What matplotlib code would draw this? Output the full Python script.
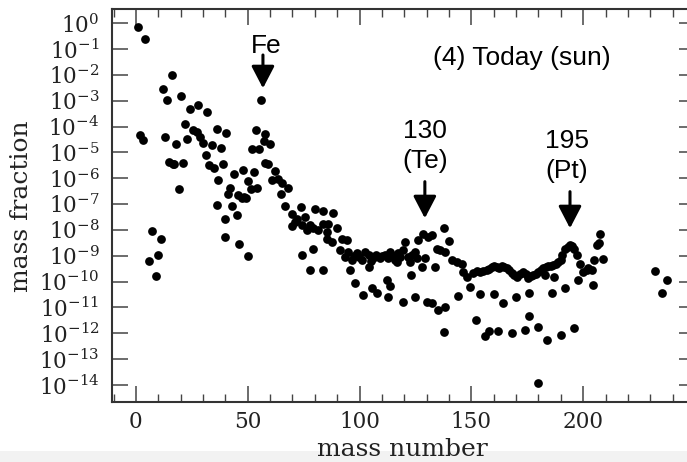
import matplotlib
matplotlib.use("Agg")
import matplotlib.pyplot as plt
from matplotlib.patches import Rectangle, ArrowStyle
from matplotlib.ticker import FixedLocator, MultipleLocator
import numpy as np

plt.rcParams['font.family'] = 'DejaVu Serif'
plt.rcParams['mathtext.fontset'] = 'dejavuserif'

# ---- data: mass number and log10(mass fraction) ----
mass_number = [
    1.0, 4.0, 2.0, 3.0, 6.0, 7.0, 8.9, 10.0, 11.2, 11.9, 13.0, 14.0, 14.6, 16.1, 16.4, 17.0,
    17.9, 19.1, 20.0, 20.9, 22.1, 22.9,
    24.2, 27.9, 32.0, 25.6, 27.1, 28.6, 30.1, 36.1, 40.1, 34.1, 38.0, 31.2, 32.6, 35.0, 39.0,
    36.8, 44.0, 48.0, 52.9, 50.0, 54.0, 51.4, 42.0, 41.0, 45.8, 47.5, 49.4, 48.4, 36.1, 43.1,
    45.0, 39.8, 39.8, 46.1, 50.0, 55.9, 53.7, 57.7, 57.1, 59.9, 51.7, 55.0, 57.7, 59.2, 62.2,
    61.0, 63.6, 65.2, 68.1, 64.8, 66.6, 69.6, 73.8, 71.9, 75.6, 69.9, 74.1, 76.3, 74.1,
    80.1, 83.8, 88.0, 71.1, 77.8, 79.3, 81.5, 83.8, 86.0, 85.3, 89.8, 85.6, 87.5, 92.0, 94.2,
    79.3, 91.2, 93.5, 96.5, 98.7, 102.4, 100.9, 106.1, 109.1, 111.4, 113.6, 115.8, 118.1,
    120.3, 119.5, 121.8, 124.8, 126.3, 128.5, 130.7, 132.2, 134.5, 129.2,
    97.5, 99.8, 104.0, 105.0, 107.5, 110.2, 112.5, 114.8, 116.9, 117.0, 123.3, 125.6, 95.0,
    122.5, 77.8, 83.8, 95.7, 104.2, 97.9, 101.7, 105.4, 107.9, 112.1, 113.6, 112.8, 119.5,
    122.8, 124.8, 127.8, 130.0, 132.2, 133.7, 135.2,
    137.7, 140.1, 136.0, 138.2, 141.2, 143.4, 145.7, 146.4, 147.9, 149.4, 150.9, 153.8,
    156.8, 159.1, 161.3, 163.5, 165.8, 168.0, 170.3, 173.2, 175.5, 177.7, 179.9, 182.2,
    184.4, 186.6, 188.9, 190.4, 191.9, 194.1, 195.9, 197.1, 198.6, 197.8, 200.0, 202.3,
    204.2, 204.8, 206.0, 207.5,
    152.3, 155.2, 157.9, 160.2, 162.4, 164.6, 166.9, 169.1, 171.6, 174.3, 176.6, 178.8,
    181.0, 183.3, 185.5, 187.7,
    138.2, 144.1, 137.7, 153.8, 160.1, 164.0, 170.0, 175.9, 182.9, 186.9, 185.9, 191.9,
    152.1, 156.1, 158.0, 162.0, 168.0, 174.0, 179.9, 175.9, 183.9, 189.9, 195.9, 179.9,
    193.0, 195.0, 189.9, 201.6, 203.8, 209.0, 207.2, 232.1, 237.6, 235.1,
]
log_mass_fraction = [
    -0.14, -0.59, -4.33, -4.53, -9.20, -8.03, -9.79, -8.97, -8.34, -2.53, -4.42, -2.98, -5.38, -2.02, -5.43, -5.45,
    -4.68, -6.41, -2.81, -5.39, -3.91, -4.47,
    -3.30, -3.17, -3.43, -4.14, -4.20, -4.40, -4.63, -4.11, -4.23, -4.72, -4.81, -5.08, -5.49, -5.62, -5.45,
    -6.07, -5.85, -5.69, -5.75, -6.10, -6.36, -6.43, -6.37, -6.59, -6.65, -6.78, -6.78, -6.72, -7.04, -7.07,
    -7.43, -7.59, -8.27, -8.56, -9.01, -2.95, -4.14, -4.29, -4.55, -4.69, -4.85, -4.87, -5.40, -5.45, -5.73,
    -6.07, -6.01, -6.20, -6.37, -6.59, -7.08, -7.39, -7.11, -7.56, -7.49, -7.85, -7.81, -8.01, -8.97,
    -7.17, -7.26, -7.36, -7.69, -7.81, -7.94, -8.01, -7.75, -7.75, -8.07, -7.94, -8.33, -8.46, -8.33, -8.39,
    -8.72, -8.78, -9.04, -9.17, -8.91, -8.85, -9.17, -9.07, -9.10, -8.97, -8.85, -9.17, -9.04,
    -8.46, -8.78, -9.04, -8.85, -8.39, -8.14, -8.27, -8.20, -8.72, -9.07,
    -9.00, -9.05, -8.95, -9.20, -8.98, -9.02, -9.10, -9.00, -9.25, -8.90, -8.95, -9.10, -8.85,
    -9.23, -9.53, -9.56, -9.56, -9.45, -10.07, -10.52, -10.26, -10.43, -9.94, -10.17, -10.59, -10.78,
    -9.75, -10.61, -9.43, -10.78, -10.84, -9.43, -11.10,
    -7.94, -8.42, -8.78, -8.85, -9.17, -9.23, -9.30, -9.62, -9.81, -10.20, -9.68, -9.62,
    -9.53, -9.45, -9.45, -9.40, -9.49, -9.68, -9.81, -9.62, -9.84, -9.75, -9.62, -9.49,
    -9.40, -9.36, -9.23, -8.97, -8.72, -8.59, -8.72, -8.97, -9.30, -9.94, -9.62, -9.49,
    -10.14, -9.17, -8.59, -8.14,
    -9.60, -9.58, -9.50, -9.40, -9.48, -9.45, -9.55, -9.75, -9.70, -9.70, -9.80, -9.70,
    -9.55, -9.45, -9.38, -9.30,
    -10.97, -10.56, -11.94, -10.46, -10.48, -10.84, -10.59, -10.43, -9.75, -9.81, -10.43, -10.26,
    -11.49, -12.11, -11.90, -11.90, -11.98, -11.88, -11.75, -11.33, -12.26, -12.07, -11.81, -13.94,
    -8.65, -8.62, -9.17, -9.55, -9.55, -9.14, -8.50, -9.58, -9.92, -10.43,
]

ytick_exponents = list(range(0, -15, -1))
ytick_labels = [r'$10^{%d}$' % e for e in ytick_exponents]
xtick_values = [0, 50, 100, 150, 200]
xtick_labels = ['0', '50', '100', '150', '200']

fe_label = 'Fe'
te_labels = ['130', '(Te)']
pt_labels = ['195', '(Pt)']
title_text = '(4) Today (sun)'

# ---- figure ----
W, H = 687, 462
fig = plt.figure(figsize=(W / 100, H / 100), dpi=100)
fig.patches.append(Rectangle((0, 0), 1, 11 / H, transform=fig.transFigure,
                             facecolor='#f2f2f2', edgecolor='none', zorder=0))

ax_left, ax_right, ax_top, ax_bottom = 112, 695, 9, 401.7
ax = fig.add_axes([ax_left / W, 1 - ax_bottom / H, (ax_right - ax_left) / W,
                   (ax_bottom - ax_top) / H])

y_values = np.power(10.0, np.array(log_mass_fraction))
ax.plot(mass_number, y_values, 'o', color='black', ms=6.3, mec='black', mew=0,
        linestyle='none', zorder=3)

ax.set_yscale('log')
ax.set_xlim(-10.7, 250)
ax.set_ylim(10 ** -14.646, 10 ** 0.553)

ax.yaxis.set_major_locator(FixedLocator([10.0 ** e for e in ytick_exponents]))
ax.yaxis.set_minor_locator(FixedLocator([]))
ax.set_yticklabels(ytick_labels)
ax.xaxis.set_major_locator(FixedLocator(xtick_values))
ax.xaxis.set_minor_locator(MultipleLocator(10))
ax.set_xticklabels(xtick_labels)

spine_col = '#333333'
for s in ax.spines.values():
    s.set_linewidth(1.5)
    s.set_color(spine_col)
ax.tick_params(which='major', direction='in', length=11.5, width=1.1, color='#444444',
               top=True, right=True, labelsize=15.5, labelcolor='#222222')
ax.tick_params(which='minor', direction='in', length=5.8, width=1.0, color='#444444',
               top=True, right=True)
ax.tick_params(axis='x', which='major', pad=7)
ax.tick_params(axis='y', which='major', pad=9)

fig.text(402 / W, 1 - 456 / H, 'mass number', ha='center', va='baseline',
         fontsize=18, color='#222222')
fig.text(22 / W, 1 - 206 / H, 'mass fraction', ha='center', va='center',
         rotation=90, fontsize=18, color='#222222')

sans = 'Liberation Sans'
afs = 19
ax.text(58.1, 10 ** -1.161, fe_label, ha='center', va='baseline', fontsize=afs, family=sans)
ax.text(129.2, 10 ** -4.439, te_labels[0], ha='center', va='baseline', fontsize=afs, family=sans)
ax.text(129.2, 10 ** -5.60, te_labels[1], ha='center', va='baseline', fontsize=afs, family=sans)
ax.text(192.8, 10 ** -4.837, pt_labels[0], ha='center', va='baseline', fontsize=afs, family=sans)
ax.text(192.8, 10 ** -5.987, pt_labels[1], ha='center', va='baseline', fontsize=afs, family=sans)
ax.text(132.8, 10 ** -1.614, title_text, ha='left', va='baseline', fontsize=afs, family=sans)

astyle = ArrowStyle('-|>', head_length=0.5, head_width=0.26)
for xa, y0, y1 in [(56.8, -1.227, -2.515), (129.2, -6.13, -7.546), (194.1, -6.517, -7.933)]:
    ax.annotate('', xy=(xa, 10 ** y1), xytext=(xa, 10 ** y0),
                arrowprops=dict(arrowstyle=astyle, lw=2.2, color='black',
                                mutation_scale=27, shrinkA=0, shrinkB=0))

fig.savefig('out.png', dpi=100)
